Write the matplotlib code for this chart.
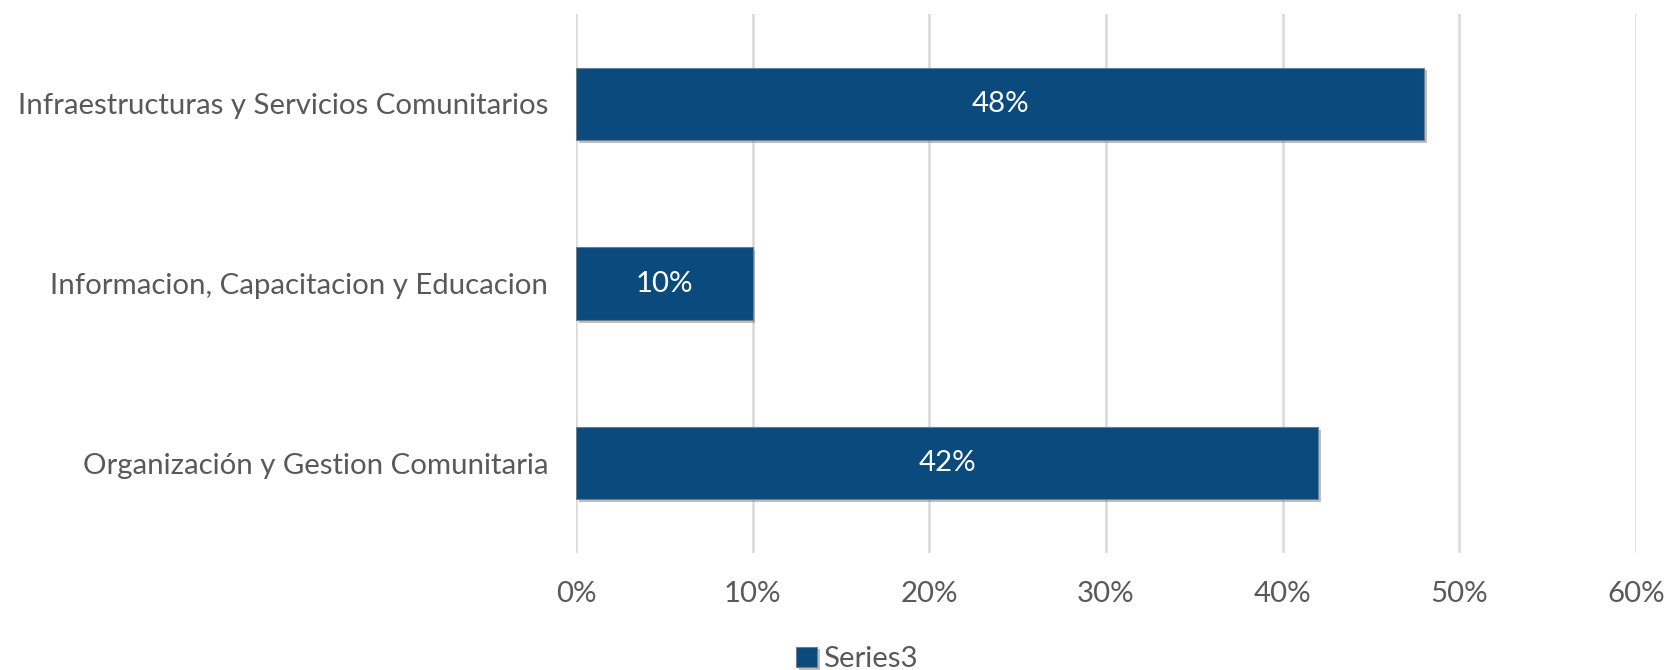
import matplotlib
matplotlib.use("Agg")
import matplotlib.pyplot as plt
import matplotlib.patheffects as pe

categories = ["Organización y Gestion Comunitaria",
              "Informacion, Capacitacion y Educacion",
              "Infraestructuras y Servicios Comunitarios"]
values = [0.42, 0.10, 0.48]
xticks = [0, 0.1, 0.2, 0.3, 0.4, 0.5, 0.6]
xticklabels = ["0%", "10%", "20%", "30%", "40%", "50%", "60%"]
series_name = "Series3"

plt.rcParams['font.family'] = ['Lato', 'DejaVu Sans']
FS = 21.2

fig = plt.figure(figsize=(16.70, 6.70), dpi=100)
ax = fig.add_axes([0.3449, 0.1746, 0.6347, 0.8044])

bars = ax.barh(range(len(categories)), values, height=0.403, color='#0a4a7c',
               edgecolor='#6b7f90', linewidth=0.8, label=series_name, zorder=3,
               path_effects=[pe.SimplePatchShadow(offset=(2, -2), shadow_rgbFace='#808080', alpha=0.5), pe.Normal()])

for i, v in enumerate(values):
    ax.text(v / 2, i, f"{round(v*100)}%", ha='center', va='center',
            color='white', fontsize=FS, zorder=4)

ax.set_xlim(0, 0.6)
ax.set_ylim(-0.5, 2.5)
ax.set_xticks(xticks)
ax.set_xticklabels(xticklabels, fontsize=FS, color='#595959')
ax.set_yticks(range(len(categories)))
ax.set_yticklabels(categories, fontsize=FS, color='#595959')
ax.tick_params(axis='both', length=0)
ax.tick_params(axis='x', pad=20)
ax.tick_params(axis='y', pad=20)
ax.grid(axis='x', color='#d9d9d9', linewidth=1.8, zorder=0)
for s in ax.spines.values():
    s.set_visible(False)

leg = fig.legend(handles=[bars], labels=[series_name], loc='center',
                 bbox_to_anchor=(0.513, 0.016), frameon=False, fontsize=FS,
                 handlelength=0.7, handleheight=0.7, handletextpad=0.2)
for t in leg.get_texts():
    t.set_color('#595959')

fig.savefig("out.png", dpi=100)
